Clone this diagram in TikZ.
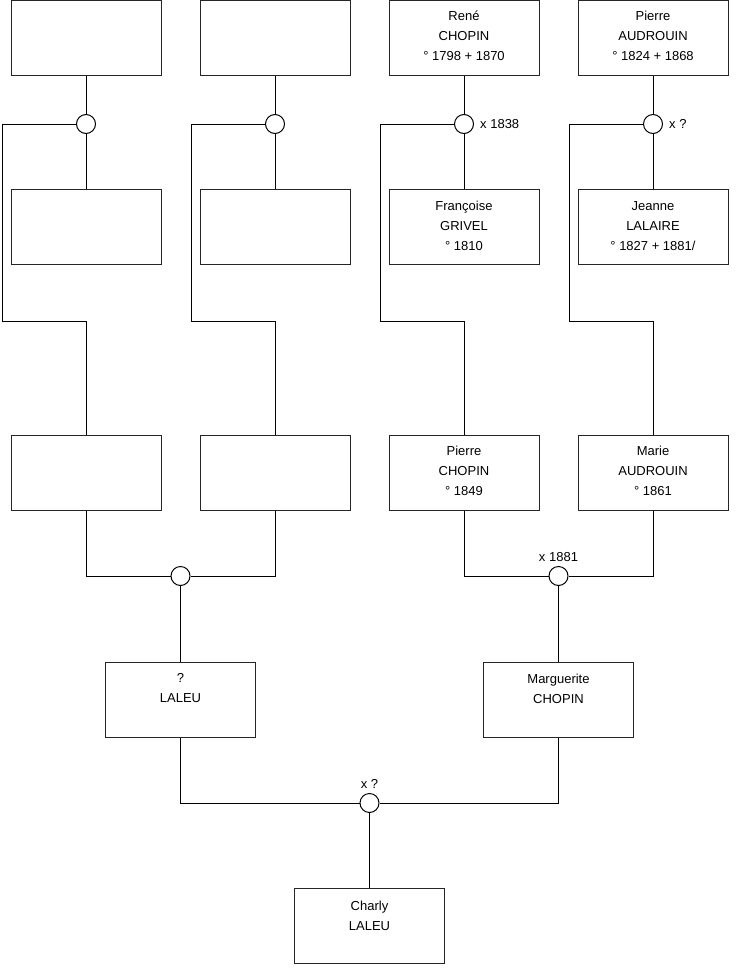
\documentclass[tikz,border=0pt]{standalone}
\usepackage{fontspec}
\setmainfont{Liberation Sans}
\usetikzlibrary{calc}
\newcommand\perstext[2][6pt]{\begin{minipage}[t][75pt][t]{150pt}\centering\vspace*{#1}\strut #2\end{minipage}}
\begin{document}
\begin{tikzpicture}[x=1pt,y=-1pt,
  person/.style={draw=black!85, line width=1pt, inner sep=0pt, font=\fontsize{13}{20}\selectfont},
  union/.style={draw=black, circle, minimum size=19pt, inner sep=0pt, line width=1pt},
  link/.style={draw=black, line width=1pt},
  lab/.style={font=\fontsize{13}{16}\selectfont, inner sep=0pt}]
\useasboundingbox[fill=white] (0,0) rectangle (740,975);

% row 1
\node[person] (a1) at (86,38) {\perstext{}};
\node[person] (a2) at (275,38) {\perstext{}};
\node[person] (a3) at (464,38) {\perstext{René\\CHOPIN\\° 1798 + 1870}};
\node[person] (a4) at (653,38) {\perstext{Pierre\\AUDROUIN\\° 1824 + 1868}};
% unions row 1
\node[union] (c1) at (86,124) {};
\node[union] (c2) at (275,124) {};
\node[union] (c3) at (464,124) {};
\node[union] (c4) at (653,124) {};
% row 2
\node[person] (b1) at (86,227) {\perstext{}};
\node[person] (b2) at (275,227) {\perstext{}};
\node[person] (b3) at (464,227) {\perstext[7pt]{Françoise\\GRIVEL\\° 1810}};
\node[person] (b4) at (653,227) {\perstext[7pt]{Jeanne\\LALAIRE\\° 1827 + 1881/}};
% row 3
\node[person] (d1) at (86,472.5) {\perstext{}};
\node[person] (d2) at (275,472.5) {\perstext{}};
\node[person] (d3) at (464,472.5) {\perstext{Pierre\\CHOPIN\\° 1849}};
\node[person] (d4) at (653,472.5) {\perstext{Marie\\AUDROUIN\\° 1861}};
% unions row 3
\node[union] (e1) at (180.5,576) {};
\node[union] (e2) at (558.5,576) {};
% row 4
\node[person] (f1) at (180.5,699.5) {\perstext{?\\LALEU}};
\node[person] (f2) at (558.5,699.5) {\perstext[7pt]{Marguerite\\CHOPIN}};
% bottom union and person
\node[union] (g) at (369.5,803) {};
\node[person] (h) at (369.5,925.5) {\perstext[8.5pt]{Charly\\LALEU}};

% corner coordinates
\coordinate (k1) at (2,321);
\coordinate (k2) at (191,321);
\coordinate (k3) at (380,321);
\coordinate (k4) at (569,321);

% connectors
\foreach \i in {1,2,3,4}{
  \draw[link] (a\i) -- (c\i);
  \draw[link] (c\i) -- (b\i);
  \draw[link] (c\i.west) -| (k\i) -- (k\i -| d\i.north) -- (d\i.north);
}
\draw[link] (d1.south) |- (e1.west);
\draw[link] (d2.south) |- (e1.east);
\draw[link] (d3.south) |- (e2.west);
\draw[link] (d4.south) |- (e2.east);
\draw[link] (e1) -- (f1);
\draw[link] (e2) -- (f2);
\draw[link] (f1.south) |- (g.west);
\draw[link] (f2.south) |- (g.east);
\draw[link] (g) -- (h);

% labels
\node[lab, anchor=west] (l3) at ($(c3.east)+(6,0)$) {x 1838};
\node[lab, anchor=west] (l4) at ($(c4.east)+(6,0)$) {x ?};
\node[lab, anchor=south] (le2) at ($(e2.north)+(0,-4.5)$) {x 1881};
\node[lab, anchor=south] (lg) at ($(g.north)+(0,-4.5)$) {x ?};
\end{tikzpicture}
\end{document}
